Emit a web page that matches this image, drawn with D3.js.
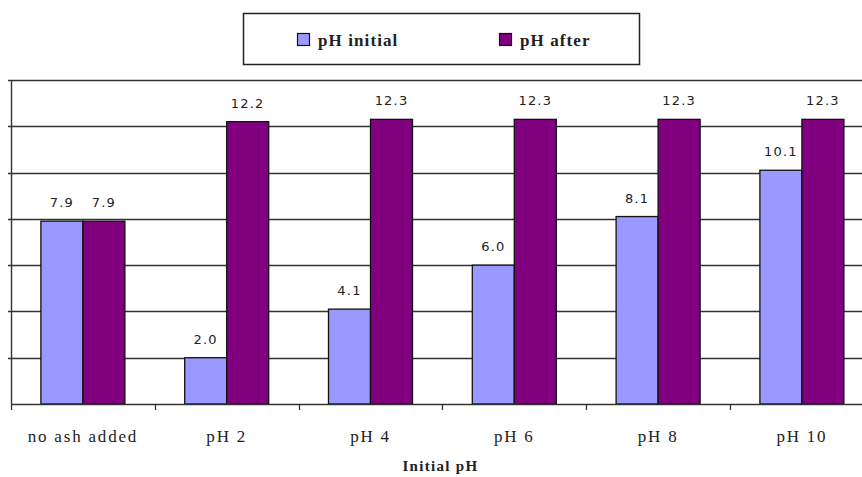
<!DOCTYPE html>
<html><head><meta charset="utf-8">
<script src="https://cdn.jsdelivr.net/npm/d3@7"></script>
<style>html,body{margin:0;padding:0;background:#fff;overflow:hidden}</style>
</head><body>
<script>
const categories = ["no ash added","pH 2","pH 4","pH 6","pH 8","pH 10"];
const phInitial = [7.9, 2.0, 4.1, 6.0, 8.1, 10.1];
const phAfter = [7.9, 12.2, 12.3, 12.3, 12.3, 12.3];
const seriesNames = ["pH initial","pH after"];
const seriesColors = ["#9999ff","#800080"];
const yTicks = [0,2,4,6,8,10,12,14];

const SERIF = "Liberation Serif";
const W = 862, H = 477;
const svg = d3.select("body").append("svg").attr("width", W).attr("height", H);

const x0 = 11, plotTop = 80, plotBottom = 404;
const band = 143.8;
const x = d3.scaleBand().domain(categories).range([x0, x0 + band*categories.length]).paddingInner(0).paddingOuter(0);
const y = d3.scaleLinear().domain([0,14]).range([plotBottom, plotTop]);
const barW = 42;
const sub = d3.scaleBand().domain(seriesNames).range([0, barW*2]);

// gridlines
svg.append("g").selectAll("line").data(yTicks.slice(1)).join("line")
  .attr("x1", x0-3).attr("x2", W).attr("y1", d=>Math.round(y(d))+0.5).attr("y2", d=>Math.round(y(d))+0.5)
  .attr("stroke", "#333").attr("stroke-width", 1.4);

// bars
const rows = categories.map((c,i)=>({c, vals:[phInitial[i], phAfter[i]]}));
const g = svg.append("g");
rows.forEach(r=>{
  const gx = x(r.c) + (x.bandwidth() - barW*2)/2;
  r.vals.forEach((v,j)=>{
    g.append("rect")
      .attr("x", gx + sub(seriesNames[j]))
      .attr("y", y(v))
      .attr("width", sub.bandwidth())
      .attr("height", y(0)-y(v))
      .attr("fill", seriesColors[j])
      .attr("stroke", "#111").attr("stroke-width", 1.3);
    g.append("text")
      .attr("x", gx + sub(seriesNames[j]) + sub.bandwidth()/2)
      .attr("y", y(v) - 14)
      .attr("text-anchor", "middle")
      .style("font-family", "DejaVu Sans")
      .attr("font-size", 13)
      .attr("letter-spacing", 1.2)
      .attr("fill", "#222")
      .text(v.toFixed(1));
  });
});

// y axis line
svg.append("line").attr("x1", x0+0.5).attr("x2", x0+0.5).attr("y1", plotTop).attr("y2", plotBottom)
  .attr("stroke", "#333").attr("stroke-width", 1.4);

// x axis
const xa = svg.append("g").attr("transform", `translate(0,${plotBottom})`);
xa.append("line").attr("x1", x0).attr("x2", W).attr("y1", 0.5).attr("y2", 0.5).attr("stroke", "#333").attr("stroke-width", 1.5);
const tickPos = categories.map(c=>x(c)).concat([x(categories[categories.length-1])+x.bandwidth()]);
xa.selectAll("line.tk").data(tickPos).join("line").attr("class","tk")
  .attr("x1", d=>Math.round(d)+0.5).attr("x2", d=>Math.round(d)+0.5).attr("y1", 0).attr("y2", 6)
  .attr("stroke", "#333").attr("stroke-width", 1.3);
xa.selectAll("text").data(categories).join("text")
  .style("font-family", SERIF)
  .attr("x", d=>x(d)+x.bandwidth()/2).attr("y", 38)
  .attr("text-anchor", "middle")
  .attr("font-size", 17).attr("letter-spacing", 1.8)
  .attr("fill", "#222").text(d=>d);

svg.append("text").style("font-family", SERIF).attr("x", x0 + band*categories.length/2 - 2).attr("y", 471)
  .attr("text-anchor", "middle").attr("font-weight", "bold")
  .attr("font-size", 15).attr("letter-spacing", 1.3).attr("fill", "#222").text("Initial pH");

// legend
const lg = svg.append("g");
lg.append("rect").attr("x", 243.5).attr("y", 13.5).attr("width", 396).attr("height", 51)
  .attr("fill", "#fff").attr("stroke", "#222").attr("stroke-width", 1.5);
const legX = [297, 499];
seriesNames.forEach((s,i)=>{
  lg.append("rect").attr("x", legX[i]+0.5).attr("y", 33.5).attr("width", 12).attr("height", 12)
    .attr("fill", seriesColors[i]).attr("stroke", "#111").attr("stroke-width", 1.2);
  lg.append("text").style("font-family", SERIF).attr("x", legX[i]+21).attr("y", 46)
    .attr("font-weight", "bold").attr("font-size", 17)
    .attr("letter-spacing", 1.1).attr("fill", "#222").text(s);
});
</script>
</body></html>
